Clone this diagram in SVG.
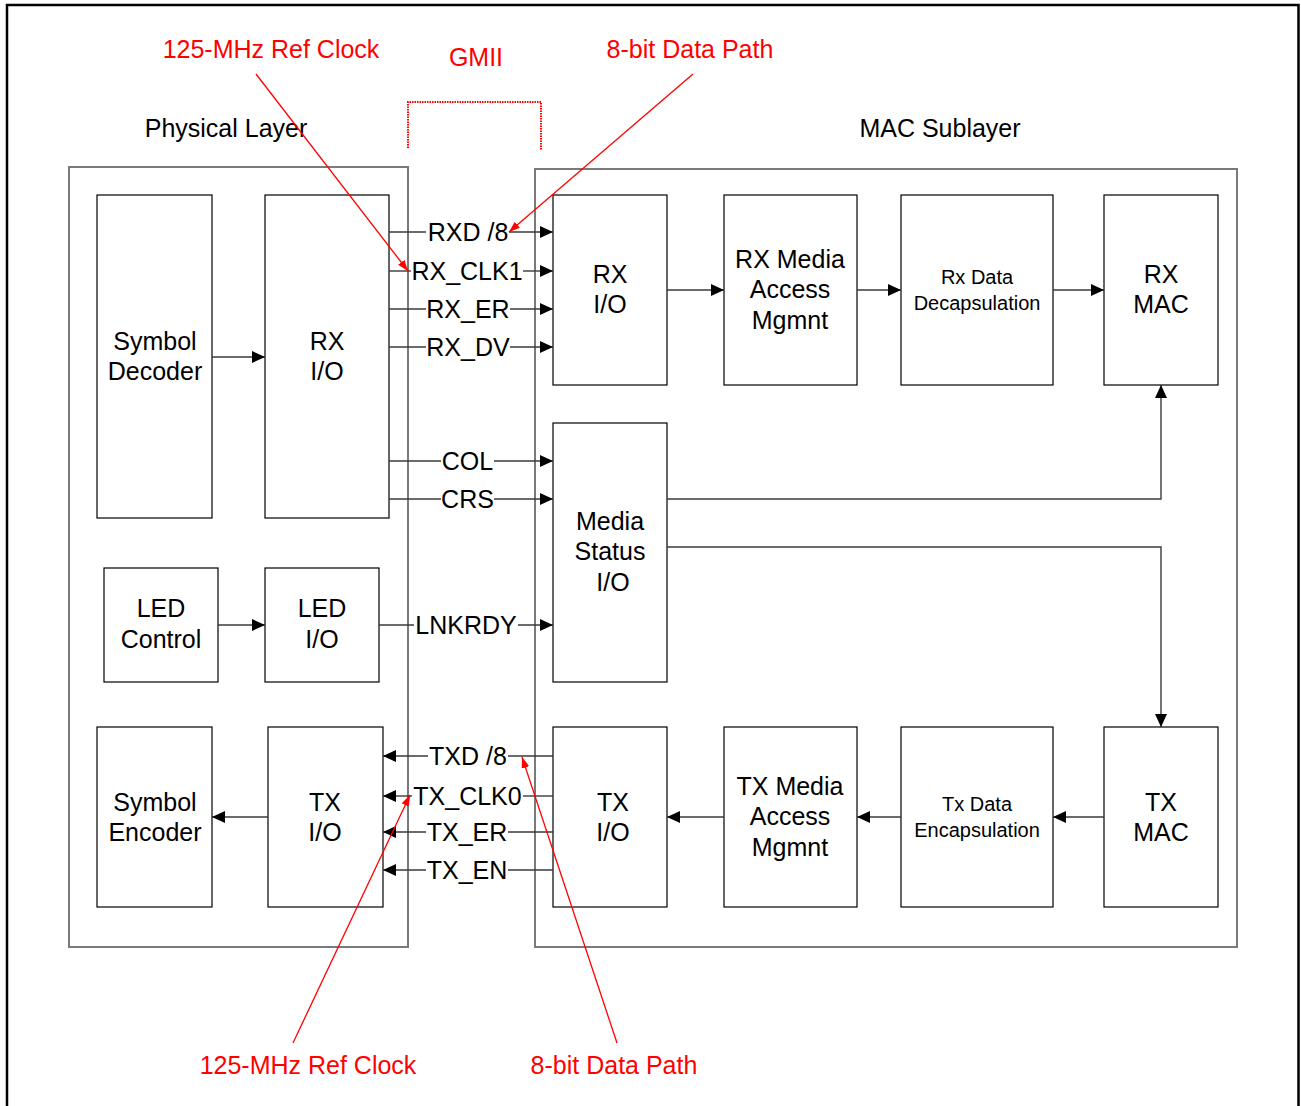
<svg xmlns="http://www.w3.org/2000/svg" width="1301" height="1106" viewBox="0 0 1301 1106">
<style>
text{font-family:"Liberation Sans",Arial,sans-serif;font-size:25px;fill:#000;text-anchor:middle}
.red{fill:#ff0000}
.sm{font-size:20px}
.grp{fill:none;stroke:#7a7a7a;stroke-width:2}
.box{fill:#fff;stroke:#000;stroke-width:1.2}
.ln{fill:none;stroke:#3a3a3a;stroke-width:1.4}
.arr{marker-end:url(#ah)}
.rl{fill:none;stroke:#ff0000;stroke-width:1.3}
.ra{marker-end:url(#rh)}
.dot{fill:none;stroke:#ff0000;stroke-width:2;stroke-dasharray:1.5 1}
</style>
<defs>
<marker id="ah" markerUnits="userSpaceOnUse" markerWidth="14" markerHeight="12" refX="13" refY="6" orient="auto">
<path d="M0,0 L13,6 L0,12 Z" fill="#000"/>
</marker>
<marker id="rh" markerUnits="userSpaceOnUse" markerWidth="12" markerHeight="10" refX="11" refY="4" orient="auto">
<path d="M0,0 L11,4 L0,8 Z" fill="#ff0000"/>
</marker>
</defs>
<rect width="1301" height="1106" fill="#fff"/>
<rect x="7" y="5" width="1291.5" height="1120" fill="none" stroke="#000" stroke-width="2.5"/>

<g id="physical-layer">
<rect class="grp" x="69" y="167" width="339" height="780"/>
<text x="226" y="137">Physical Layer</text>
</g>
<g id="mac-sublayer">
<rect class="grp" x="535" y="169" width="702" height="778"/>
<text x="940" y="137">MAC Sublayer</text>
</g>

<g id="symbol-decoder"><rect class="box" x="97" y="195" width="115" height="323"/><text x="155" y="350">Symbol</text><text x="155" y="380">Decoder</text></g>
<g id="phy-rx-io"><rect class="box" x="265" y="195" width="124" height="323"/><text x="327" y="350">RX</text><text x="327" y="380">I/O</text></g>
<g id="led-control"><rect class="box" x="104" y="568" width="114" height="114"/><text x="161" y="617">LED</text><text x="161" y="648">Control</text></g>
<g id="led-io"><rect class="box" x="265" y="568" width="114" height="114"/><text x="322" y="617">LED</text><text x="322" y="648">I/O</text></g>
<g id="symbol-encoder"><rect class="box" x="97" y="727" width="115" height="180"/><text x="155" y="811">Symbol</text><text x="155" y="841">Encoder</text></g>
<g id="phy-tx-io"><rect class="box" x="268" y="727" width="115" height="180"/><text x="325" y="811">TX</text><text x="325" y="841">I/O</text></g>

<g id="mac-rx-io"><rect class="box" x="553" y="195" width="114" height="190"/><text x="610" y="283">RX</text><text x="610" y="313">I/O</text></g>
<g id="rx-media-access"><rect class="box" x="724" y="195" width="133" height="190"/><text x="790" y="268">RX Media</text><text x="790" y="298">Access</text><text x="790" y="329">Mgmnt</text></g>
<g id="rx-data-decap"><rect class="box" x="901" y="195" width="152" height="190"/><text class="sm" x="977" y="284">Rx Data</text><text class="sm" x="977" y="310">Decapsulation</text></g>
<g id="rx-mac"><rect class="box" x="1104" y="195" width="114" height="190"/><text x="1161" y="283">RX</text><text x="1161" y="313">MAC</text></g>
<g id="media-status-io"><rect class="box" x="553" y="423" width="114" height="259"/><text x="610" y="530">Media</text><text x="610" y="560">Status</text><text x="613" y="591">I/O</text></g>
<g id="mac-tx-io"><rect class="box" x="553" y="727" width="114" height="180"/><text x="613" y="811">TX</text><text x="613" y="841">I/O</text></g>
<g id="tx-media-access"><rect class="box" x="724" y="727" width="133" height="180"/><text x="790" y="795">TX Media</text><text x="790" y="825">Access</text><text x="790" y="856">Mgmnt</text></g>
<g id="tx-data-encap"><rect class="box" x="901" y="727" width="152" height="180"/><text class="sm" x="977" y="811">Tx Data</text><text class="sm" x="977" y="837">Encapsulation</text></g>
<g id="tx-mac"><rect class="box" x="1104" y="727" width="114" height="180"/><text x="1161" y="811">TX</text><text x="1161" y="841">MAC</text></g>

<g id="connectors">
<line class="ln arr" x1="212" y1="357" x2="265" y2="357"/>
<line class="ln arr" x1="218" y1="625" x2="265" y2="625"/>
<line class="ln arr" x1="268" y1="817" x2="212" y2="817"/>
<line class="ln arr" x1="667" y1="290" x2="724" y2="290"/>
<line class="ln arr" x1="857" y1="290" x2="901" y2="290"/>
<line class="ln arr" x1="1053" y1="290" x2="1104" y2="290"/>
<line class="ln arr" x1="724" y1="817" x2="667" y2="817"/>
<line class="ln arr" x1="901" y1="817" x2="857" y2="817"/>
<line class="ln arr" x1="1104" y1="817" x2="1053" y2="817"/>
<polyline class="ln arr" points="667,499 1161,499 1161,385"/>
<polyline class="ln arr" points="667,547 1161,547 1161,727"/>

<line class="ln" x1="389" y1="232" x2="426" y2="232"/><line class="ln arr" x1="509" y1="232" x2="553" y2="232"/>
<line class="ln" x1="389" y1="271" x2="411" y2="271"/><line class="ln arr" x1="523" y1="271" x2="553" y2="271"/>
<line class="ln" x1="389" y1="309" x2="426" y2="309"/><line class="ln arr" x1="510" y1="309" x2="553" y2="309"/>
<line class="ln" x1="389" y1="347" x2="426" y2="347"/><line class="ln arr" x1="510" y1="347" x2="553" y2="347"/>
<line class="ln" x1="389" y1="461" x2="441" y2="461"/><line class="ln arr" x1="494" y1="461" x2="553" y2="461"/>
<line class="ln" x1="389" y1="499" x2="441" y2="499"/><line class="ln arr" x1="494" y1="499" x2="553" y2="499"/>
<line class="ln" x1="379" y1="625" x2="414" y2="625"/><line class="ln arr" x1="518" y1="625" x2="553" y2="625"/>
<line class="ln" x1="553" y1="756" x2="508" y2="756"/><line class="ln arr" x1="428" y1="756" x2="383" y2="756"/>
<line class="ln" x1="553" y1="796" x2="523" y2="796"/><line class="ln arr" x1="412" y1="796" x2="383" y2="796"/>
<line class="ln" x1="553" y1="832" x2="508" y2="832"/><line class="ln arr" x1="426" y1="832" x2="383" y2="832"/>
<line class="ln" x1="553" y1="870" x2="508" y2="870"/><line class="ln arr" x1="426" y1="870" x2="383" y2="870"/>
</g>

<g id="signal-labels">
<text x="468" y="241">RXD /8</text>
<text x="467" y="280">RX_CLK1</text>
<text x="468" y="318">RX_ER</text>
<text x="468" y="356">RX_DV</text>
<text x="467.5" y="470">COL</text>
<text x="467.5" y="508">CRS</text>
<text x="466" y="634">LNKRDY</text>
<text x="468" y="765">TXD /8</text>
<text x="467.5" y="805">TX_CLK0</text>
<text x="467" y="841">TX_ER</text>
<text x="467" y="879">TX_EN</text>
</g>

<g id="annotations">
<text class="red" x="271" y="58">125-MHz Ref Clock</text>
<text class="red" x="476" y="66">GMII</text>
<text class="red" x="690" y="58">8-bit Data Path</text>
<polyline class="dot" points="408,148 408,102 541,102 541,150"/>
<line class="rl ra" x1="256" y1="74" x2="408" y2="271"/>
<line class="rl ra" x1="693" y1="74" x2="509" y2="232"/>
<text class="red" x="308" y="1074">125-MHz Ref Clock</text>
<text class="red" x="614" y="1074">8-bit Data Path</text>
<line class="rl ra" x1="293" y1="1043" x2="410" y2="795"/>
<line class="rl ra" x1="617" y1="1043" x2="522" y2="757"/>
</g>
</svg>
